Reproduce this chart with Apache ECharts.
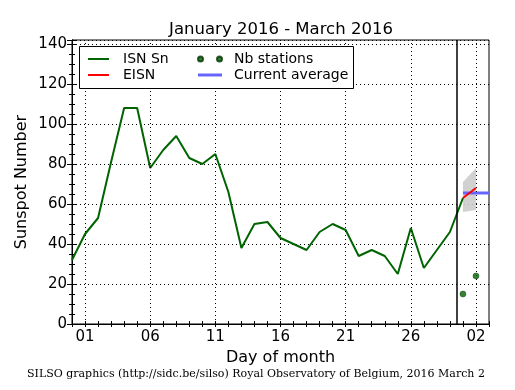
<!DOCTYPE html>
<html>
<head>
<meta charset="utf-8">
<script src="https://cdn.jsdelivr.net/npm/echarts@6/dist/echarts.min.js"></script>
<style>html,body{margin:0;padding:0;background:#fff}#c{width:515px;height:390px}</style>
</head>
<body>
<div id="c"></div>
<script>
// Day index: 0 = Jan 31, 1 = Feb 1 ... 30 = Mar 1, 31 = Mar 2
const isnDays = [0,1,2,3,4,5,6,7,8,9,10,11,12,13,14,15,16,17,18,19,20,21,22,23,24,25,26,27,28,29,30];
const isnValues = [32,45,53,81,108,108,78,87,94,83,80,85,66,38,50,51,43,40,37,46,50,47,34,37,34,25,48,28,37,46,63];
const eisnDays = [30,31];
const eisnValues = [63,68];
const stationDays = [30,31];
const stationValues = [15,24];
const avgDays = [30,32];
const avgValues = [65.5,65.5];
const bandDays = [30,31];
const bandLow = [56,57];
const bandHigh = [71,78];
const tickDays = [1,6,11,16,21,26,31];
const tickLabels = ['01','06','11','16','21','26','02'];
const monthSplitDay = 29.5;

const pairs = (xs, ys) => xs.map((x,i) => [x, ys[i]]);
const FONT = 'DejaVu Sans';
const chart = echarts.init(document.getElementById('c'), null, {renderer:'canvas'});

const dotted = {color:'#000', width:1, type:[1,3]};
const option = {
  animation:false,
  backgroundColor:'#fff',
  title:{text:'January 2016 - March 2016', left:276, textAlign:'center', top:16,
    textStyle:{fontFamily:FONT, fontSize:16.5, fontWeight:'normal', color:'#000'}},
  grid:{left:72, right:26, top:40, bottom:66, show:true, borderColor:'#000', borderWidth:1, backgroundColor:'transparent'},
  legend:[
    {left:88, top:52, z:30, padding:0, orient:'vertical', itemGap:2, itemWidth:21, itemHeight:2, icon:'rect',
     textStyle:{fontFamily:FONT, fontSize:14, color:'#000', lineHeight:12, padding:[0,0,0,9]},
     data:['ISN Sn','EISN'], selectedMode:false},
    {left:197, top:52, z:30, padding:0, orient:'vertical', itemGap:2, itemWidth:24, itemHeight:6, symbolKeepAspect:true,
     textStyle:{fontFamily:FONT, fontSize:14, color:'#000', lineHeight:12, padding:[0,0,0,7]},
     data:[
       {name:'Nb stations', icon:'path://M2.5,0A2.5,2.5,0,1,1,2.5,5A2.5,2.5,0,1,1,2.5,0ZM21.5,0A2.5,2.5,0,1,1,21.5,5A2.5,2.5,0,1,1,21.5,0Z'},
       {name:'Current average', icon:'path://M0,0L24,0L24,3L0,3Z'}
     ], selectedMode:false}
  ],
  xAxis:[
    {type:'value', min:0, max:32, interval:1, position:'bottom',
     name:'Day of month', nameLocation:'middle', nameGap:26,
     nameTextStyle:{fontFamily:FONT, fontSize:16, color:'#000'},
     axisLine:{show:true, lineStyle:{color:'#000', width:1}},
     axisTick:{show:true, inside:true, length:3, lineStyle:{color:'#000'}},
     axisLabel:{fontFamily:FONT, fontSize:15, color:'#000', margin:6,
       formatter:v => { const i = tickDays.indexOf(Math.round(v)); return (i>=0 && Math.abs(v-tickDays[i])<1e-6) ? tickLabels[i] : ''; }},
     splitLine:{show:false}},
    {type:'value', min:0, max:32, interval:1, position:'top',
     axisLine:{show:true, lineStyle:{color:'#000', width:1}},
     axisTick:{show:true, inside:true, length:3, lineStyle:{color:'#000'}},
     axisLabel:{show:false}, splitLine:{show:false}}
  ],
  yAxis:[
    {type:'value', min:0, max:142, interval:20, position:'left',
     name:'Sunspot Number', nameLocation:'middle', nameGap:42, nameRotate:90, nameMoveOverlap:false,
     nameTextStyle:{fontFamily:FONT, fontSize:16, color:'#000'},
     axisLine:{show:true, lineStyle:{color:'#000', width:1}},
     axisTick:{show:true, inside:true, length:5, lineStyle:{color:'#000'}},
     minorTick:{show:true, splitNumber:4, length:3, lineStyle:{color:'#000'}},
     axisLabel:{fontFamily:FONT, fontSize:15, color:'#000', margin:5,
       formatter:v => (Math.abs(v % 20) < 1e-6 ? String(v) : '')},
     splitLine:{show:true, lineStyle:dotted}},
    {type:'value', min:0, max:142, interval:20, position:'right',
     axisLine:{show:true, lineStyle:{color:'#000', width:1}},
     axisTick:{show:true, inside:true, length:5, lineStyle:{color:'#000'}},
     minorTick:{show:true, splitNumber:4, length:3, lineStyle:{color:'#000'}},
     axisLabel:{show:false}, splitLine:{show:false}}
  ],
  series:[
    {name:'band', type:'custom', silent:true, z:1,
     data: bandDays.map((d,i) => [d, bandLow[i], bandHigh[i]]),
     renderItem:(params, api) => {
       if (params.dataIndex !== 0) return null;
       const top = bandDays.map((d,i) => api.coord([d, bandHigh[i]]));
       const bot = bandDays.map((d,i) => api.coord([d, bandLow[i]])).reverse();
       return {type:'polygon', shape:{points: top.concat(bot)}, style:{fill:'#cccccc', opacity:0.9}};
     }},
    {name:'ISN Sn', type:'line', data:pairs(isnDays, isnValues), symbol:'none',
     lineStyle:{color:'#006400', width:2}, itemStyle:{color:'#006400'}, z:3,
     markLine:{silent:true, symbol:'none', label:{show:false}, animation:false,
       data: tickDays.map(d => ({xAxis:d, lineStyle:dotted})).concat([{xAxis:monthSplitDay, lineStyle:{color:'#000', width:1.5, type:'solid'}}])}},
    {name:'EISN', type:'line', data:pairs(eisnDays, eisnValues), symbol:'none',
     lineStyle:{color:'#ff0000', width:2}, itemStyle:{color:'#ff0000'}, z:5},
    {name:'Current average', type:'line', data:pairs(avgDays, avgValues), symbol:'none',
     lineStyle:{color:'#6666ff', width:3}, itemStyle:{color:'#6666ff'}, z:4},
    {name:'Nb stations', type:'scatter', data:pairs(stationDays, stationValues), symbol:'circle', symbolSize:6,
     itemStyle:{color:'#006400', borderColor:'#003300', borderWidth:0.5}, z:5}
  ],
  graphic:[
    {type:'rect', left:79, top:46, z:10, shape:{width:274, height:42}, style:{fill:'#fff', stroke:'#000', lineWidth:1}},
    {type:'text', left:27, top:369, style:{text:'SILSO graphics (http://sidc.be/silso) Royal Observatory of Belgium, 2016 March 2', font:'11px "DejaVu Serif"', fill:'#000'}}
  ]
};
chart.setOption(option);
</script>
</body>
</html>
